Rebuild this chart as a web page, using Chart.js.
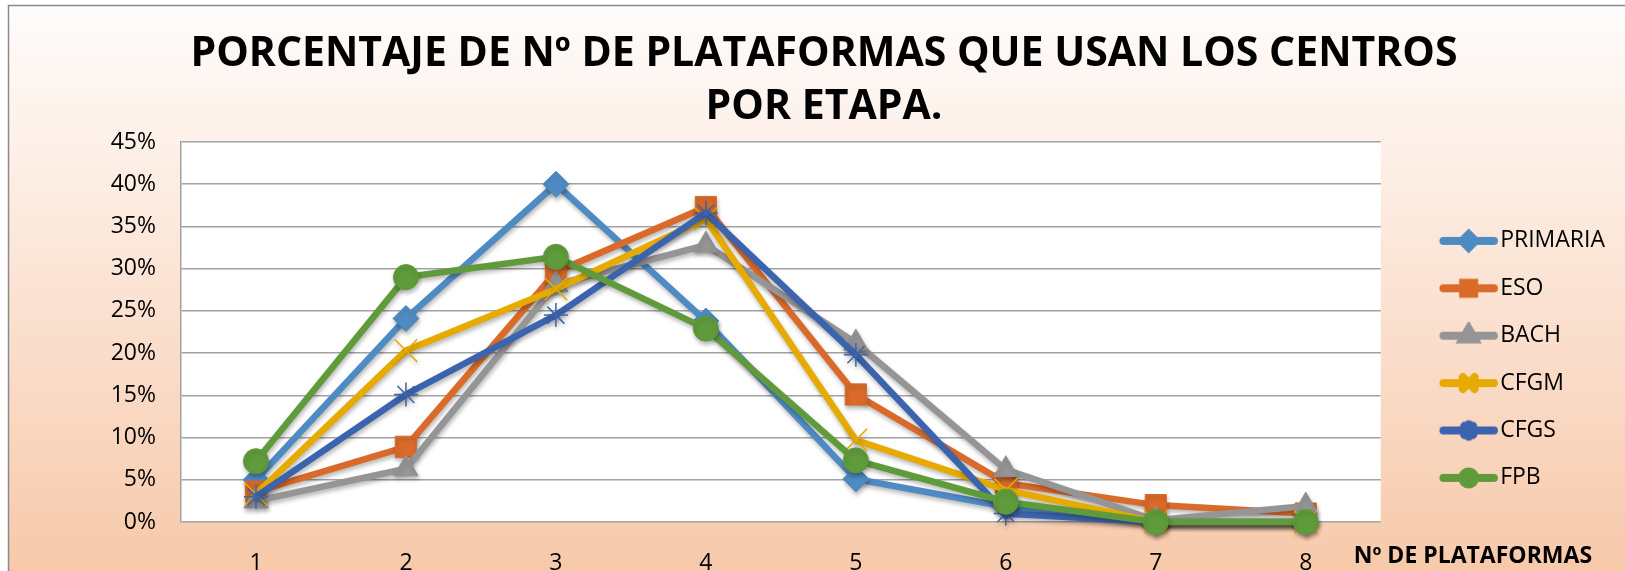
<!DOCTYPE html>
<html>
<head>
<meta charset="utf-8">
<script src="https://cdn.jsdelivr.net/npm/chart.js@4.4.1/dist/chart.umd.min.js"></script>
<style>
  html, body { margin: 0; padding: 0; background: #fff; }
</style>
</head>
<body>
<canvas id="mycanvas" width="1625" height="571"></canvas>
<script>
// data (percent of centres)
var categories = ['1', '2', '3', '4', '5', '6', '7', '8'];
var seriesNames = ['PRIMARIA', 'ESO', 'BACH', 'CFGM', 'CFGS', 'FPB'];
var primaria = [5.0, 24.1, 40.0, 23.8, 5.1, 1.8, 0, 0];
var eso      = [3.6, 8.9, 29.6, 37.3, 15.1, 4.6, 2.0, 1.0];
var bach     = [2.5, 6.3, 28.1, 32.8, 21.2, 6.2, 0.2, 1.9];
var cfgm     = [3.3, 20.3, 27.6, 35.9, 9.7, 3.8, 0, 0];
var cfgs     = [3.0, 15.1, 24.5, 36.6, 19.8, 1.0, 0, 0];
var fpb      = [7.2, 29.0, 31.4, 22.9, 7.3, 2.4, 0, 0];
var yMax = 45;
var yStep = 5;
var titleLines = ['PORCENTAJE DE Nº DE PLATAFORMAS QUE USAN LOS CENTROS', 'POR ETAPA.'];
var xTitle = 'Nº DE PLATAFORMAS';

var allValues = [primaria, eso, bach, cfgm, cfgs, fpb];
var colors = ['#4f8bc3', '#d96a2a', '#959595', '#e6aa00', '#3b63ae', '#5f9b3b'];
var styles = ['rectRot', 'rect', 'triangle', 'crossRot', 'star', 'circle'];
var radii = [13, 15, 14, 16, 12, 12.5];
var markerBorder = [1, 1, 1, 1.5, 1.5, 1];
var FONT = '"Open Sans", "DejaVu Sans", sans-serif';

// legend icons: a thick line with the marker in the middle
function makeIcon(i) {
  var c = document.createElement('canvas');
  c.width = 106;
  c.height = 28;
  var g = c.getContext('2d');
  var x0 = 45.5, x1 = 104;
  g.strokeStyle = colors[i];
  g.lineWidth = 8;
  g.lineCap = 'round';
  g.beginPath();
  g.moveTo(x0 + 4, 14);
  g.lineTo(x1 - 4, 14);
  g.stroke();
  g.fillStyle = colors[i];
  g.strokeStyle = colors[i];
  if (Chart.helpers && Chart.helpers.drawPoint) {
    Chart.helpers.drawPoint(g, {
      pointStyle: styles[i],
      rotation: 0,
      radius: radii[i] * 0.52,
      borderWidth: markerBorder[i]
    }, (x0 + x1) / 2, 14);
  }
  return c;
}
var icons = seriesNames.map(function (n, i) { return makeIcon(i); });

var datasets = seriesNames.map(function (name, i) {
  return {
    label: name,
    data: allValues[i],
    borderColor: colors[i],
    backgroundColor: colors[i],
    borderWidth: 6.5,
    pointStyle: styles[i],
    pointRadius: radii[i],
    pointBorderWidth: markerBorder[i],
    pointBackgroundColor: colors[i],
    pointBorderColor: colors[i],
    tension: 0,
    clip: false,
    order: seriesNames.length - i
  };
});

var backgroundPlugin = {
  id: 'bg',
  beforeDraw: function (chart) {
    var ctx = chart.ctx, w = chart.width, h = chart.height, a = chart.chartArea;
    ctx.save();
    ctx.fillStyle = '#ffffff';
    ctx.fillRect(0, 0, w, h);
    var grad = ctx.createLinearGradient(0, 5, 0, h);
    grad.addColorStop(0, '#fefcfb');
    grad.addColorStop(0.25, '#fdf0e8');
    grad.addColorStop(1, '#f7c9aa');
    ctx.fillStyle = grad;
    ctx.fillRect(8, 5, w, h);
    ctx.strokeStyle = '#8a8a8a';
    ctx.lineWidth = 1.5;
    ctx.strokeRect(8.5, 5.5, w + 20, h + 20);
    ctx.fillStyle = '#ffffff';
    ctx.fillRect(a.left, a.top, a.right - a.left, a.bottom - a.top);
    ctx.restore();
  }
};

var shadowPlugin = {
  id: 'shadow',
  beforeDatasetsDraw: function (chart) {
    var ctx = chart.ctx;
    ctx.save();
    ctx.shadowColor = 'rgba(0,0,0,0.28)';
    ctx.shadowBlur = 4;
    ctx.shadowOffsetX = 1;
    ctx.shadowOffsetY = 3;
  },
  afterDatasetsDraw: function (chart) {
    chart.ctx.restore();
  }
};

var xTitlePlugin = {
  id: 'xtitle',
  afterDraw: function (chart) {
    var ctx = chart.ctx, xs = chart.scales.x;
    ctx.save();
    ctx.font = 'bold 23px ' + FONT;
    ctx.fillStyle = '#000';
    ctx.textAlign = 'left';
    ctx.textBaseline = 'middle';
    ctx.fillText(xTitle, chart.chartArea.right - 27, xs.top + 34);
    ctx.restore();
  }
};

var ctx = document.getElementById('mycanvas');
var chart = new Chart(ctx, {
  type: 'line',
  data: { labels: categories, datasets: datasets },
  plugins: [backgroundPlugin, shadowPlugin, xTitlePlugin],
  options: {
    responsive: false,
    animation: false,
    layout: { padding: { left: 33, right: 10, top: 0, bottom: 0 } },
    plugins: {
      title: {
        display: true,
        text: titleLines,
        color: '#000',
        font: { family: FONT, size: 41, weight: 'bold', lineHeight: '53px' },
        padding: { top: 28, bottom: 8 }
      },
      legend: {
        position: 'right',
        align: 'start',
        fullSize: false,
        // empty title only used as top spacing for the legend column
        title: { display: true, text: '', font: { size: 10, lineHeight: '10px' }, padding: { top: 53, bottom: 0 } },
        labels: {
          usePointStyle: true,
          pointStyleWidth: 83.5,
          padding: 24.4,
          color: '#000',
          font: { family: FONT, size: 23 },
          generateLabels: function (chart) {
            var items = Chart.defaults.plugins.legend.labels.generateLabels(chart);
            items.forEach(function (it) { it.pointStyle = icons[it.datasetIndex]; });
            return items;
          },
          sort: function (a, b) { return a.datasetIndex - b.datasetIndex; }
        }
      },
      tooltip: { enabled: false }
    },
    scales: {
      x: {
        offset: true,
        grid: { display: false },
        border: { display: false },
        ticks: { color: '#000', padding: 20, font: { family: FONT, size: 23 } },
        afterFit: function (s) { s.height = 49; }
      },
      y: {
        min: 0,
        max: yMax,
        grid: { color: '#a2a2a2', lineWidth: 1.5, drawTicks: false },
        border: { display: true, color: '#a2a2a2', width: 1.5 },
        ticks: {
          stepSize: yStep,
          color: '#000',
          padding: 25,
          font: { family: FONT, size: 23 },
          callback: function (v) { return v + '%'; }
        },
        afterFit: function (s) { s.width = 148; }
      }
    }
  }
});
</script>
</body>
</html>
